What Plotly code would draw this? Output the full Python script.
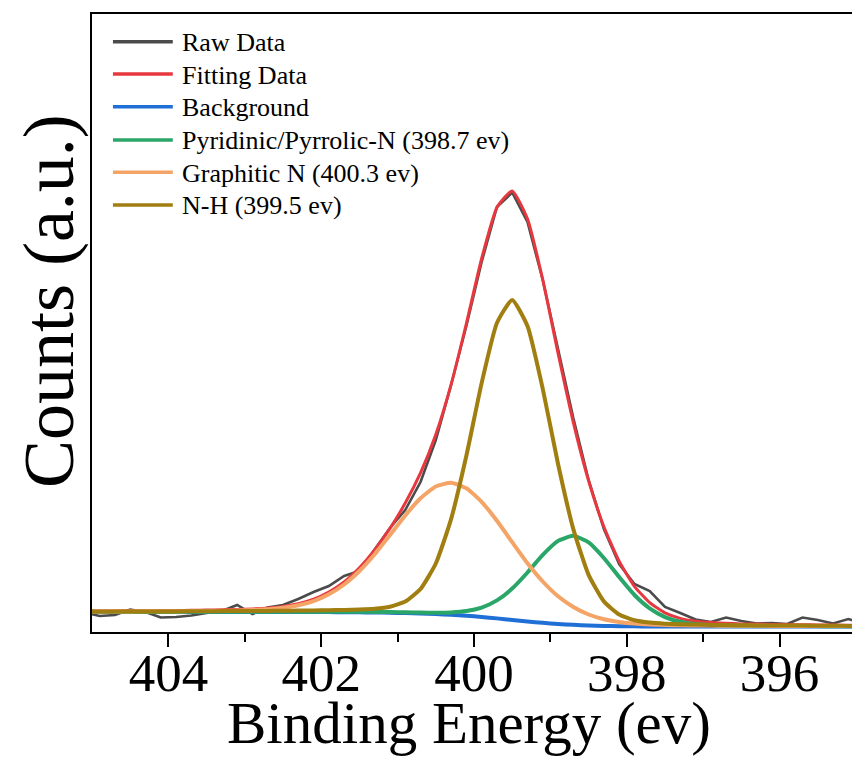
import plotly.graph_objects as go

# Binding energy grid (eV)
energy = [405.1, 404.9, 404.7, 404.5, 404.3, 404.1, 403.9, 403.7, 403.5, 403.3,
          403.1, 402.9, 402.7, 402.5, 402.3, 402.1, 401.9, 401.7, 401.5, 401.3,
          401.1, 400.9, 400.7, 400.5, 400.3, 400.1, 399.9, 399.7, 399.5, 399.3,
          399.1, 398.9, 398.7, 398.5, 398.3, 398.1, 397.9, 397.7, 397.5, 397.3,
          397.1, 396.9, 396.7, 396.5, 396.3, 396.1, 395.9, 395.7, 395.5, 395.3,
          395.1, 394.9]

raw_data = [19.5, 16.0, 17.0, 22.5, 20.0, 14.5, 15.0, 16.5, 19.0, 21.0,
            27.0, 18.0, 24.5, 27.0, 33.0, 40.0, 46.0, 56.0, 61.0, 83.0,
            104.0, 122.0, 150.0, 192.0, 247.0, 306.0, 370.0, 425.0, 439.5, 410.0,
            352.0, 283.0, 214.0, 152.0, 103.0, 68.0, 48.0, 41.0, 25.0, 19.0,
            12.5, 10.0, 14.5, 11.0, 8.5, 9.0, 8.0, 14.5, 12.0, 8.5,
            13.0, 8.0]

fitting_data = [20.9, 21.0, 21.1, 21.2, 21.3, 21.4, 21.5, 21.7, 21.9, 22.2,
                22.6, 23.1, 24.0, 25.6, 28.3, 32.8, 40.0, 50.1, 64.3, 82.2,
                103.6, 128.9, 159.1, 197.5, 247.3, 308.5, 373.5, 424.6, 441.1, 413.2,
                352.3, 278.8, 209.7, 151.2, 105.2, 70.7, 45.7, 29.3, 19.2, 13.6,
                10.8, 9.4, 8.7, 8.1, 7.9, 7.6, 7.4, 7.3, 7.0, 6.9,
                6.8, 6.7]

background = [20.0, 20.0, 20.0, 20.0, 20.0, 20.0, 20.0, 20.0, 20.0, 20.0,
              20.0, 20.0, 20.0, 19.98, 19.96, 19.93, 19.9, 19.83, 19.71, 19.52,
              19.28, 18.93, 18.49, 17.93, 17.19, 16.24, 15.04, 13.62, 12.07, 10.53,
              9.15, 8.02, 7.17, 6.54, 6.12, 5.85, 5.67, 5.58, 5.53, 5.51,
              5.5, 5.5, 5.5, 5.5, 5.5, 5.5, 5.5, 5.5, 5.5, 5.5,
              5.5, 5.5]

pyridinic_n = [20.1, 20.1, 20.1, 20.1, 20.1, 20.1, 20.1, 20.2, 20.2, 20.2,
               20.2, 20.2, 20.2, 20.2, 20.2, 20.2, 20.3, 20.2, 20.2, 20.1,
               19.9, 19.7, 19.4, 19.3, 19.6, 20.9, 24.4, 31.6, 43.4, 59.5,
               77.1, 91.1, 96.2, 89.6, 74.0, 54.9, 37.0, 23.6, 14.9, 10.2,
               7.9, 6.9, 6.5, 6.2, 6.1, 6.0, 6.0, 5.9, 5.9, 5.8,
               5.8, 5.8]

graphitic_n = [20.5, 20.5, 20.6, 20.6, 20.7, 20.7, 20.8, 20.9, 21.0, 21.2,
               21.5, 21.9, 22.7, 24.2, 26.7, 30.9, 37.7, 47.5, 61.0, 77.8,
               97.0, 116.5, 133.7, 145.5, 149.2, 143.8, 130.2, 111.2, 89.8, 68.8,
               50.5, 35.7, 25.0, 17.5, 12.8, 10.1, 8.4, 7.5, 7.0, 6.7,
               6.5, 6.4, 6.3, 6.2, 6.2, 6.1, 6.1, 6.0, 6.0, 5.9,
               5.9, 5.9]

n_h = [20.4, 20.4, 20.4, 20.5, 20.5, 20.6, 20.6, 20.7, 20.7, 20.9,
       20.9, 21.0, 21.1, 21.2, 21.4, 21.5, 21.8, 22.0, 22.5, 23.3,
       25.3, 30.5, 43.0, 68.5, 112.9, 176.2, 248.9, 309.0, 332.1, 305.9,
       243.1, 168.0, 102.9, 57.1, 30.6, 17.5, 11.7, 9.4, 8.3, 7.7,
       7.4, 7.1, 6.9, 6.7, 6.6, 6.5, 6.4, 6.4, 6.2, 6.2,
       6.1, 6.1]

series_names = ["Raw Data", "Fitting Data", "Background",
                "Pyridinic/Pyrrolic-N (398.7 ev)", "Graphitic N (400.3 ev)",
                "N-H (399.5 ev)"]
major_ticks = [404, 402, 400, 398, 396]
minor_ticks = [403, 401, 399, 397]

colors = ["#4b4b4b", "#e8383f", "#1f6fd6", "#29a668", "#f4a466", "#a07e10"]
widths = [2.6, 3.0, 4.0, 4.0, 4.0, 4.0]
series = [raw_data, fitting_data, background, pyridinic_n, graphitic_n, n_h]

FONT = "Liberation Serif, Times New Roman, serif"
# the page body has an 8 px margin: size the figure so it fits the window
OFF = 8
W, H = 860 - OFF, 764 - OFF
# plot area in page pixels: x 92..858, y 14..632
L, T = 92 - OFF, 14 - OFF
R = W - (858 - OFF)
B = H - (632 - OFF)
PW, PH = 858 - 92, 632 - 14


def px(xp):
    return (xp - 92) / PW


def py(yp):
    return (632 - yp) / PH


fig = go.Figure()
for i, (name, ys) in enumerate(zip(series_names, series)):
    fig.add_trace(go.Scatter(
        x=energy, y=ys, mode="lines", name=name,
        line=dict(color=colors[i], width=widths[i],
                  shape="linear" if i == 0 else "spline",
                  smoothing=0.5 if i else None),
        showlegend=False,
    ))

# custom legend (long line samples as in the original)
rows = [41.7, 74, 106.7, 140, 172.3, 205]
shapes = []
annotations = []
for i, name in enumerate(series_names):
    shapes.append(dict(type="line", xref="paper", yref="paper",
                       x0=px(113), x1=px(173), y0=py(rows[i]), y1=py(rows[i]),
                       line=dict(color=colors[i], width=3.5)))
    annotations.append(dict(text=name, xref="paper", yref="paper",
                            x=px(180), y=py(rows[i] + 1), xanchor="left",
                            yanchor="middle", showarrow=False,
                            font=dict(family=FONT, size=26, color="black")))

annotations.append(dict(text="Binding Energy (ev)", xref="paper", yref="paper",
                        x=px(470), y=py(723), xanchor="center", yanchor="middle",
                        showarrow=False,
                        font=dict(family=FONT, size=59, color="black")))
annotations.append(dict(text="Counts (a.u.)", xref="paper", yref="paper",
                        x=px(49), y=py(301), xanchor="center", yanchor="middle",
                        textangle=-90, showarrow=False,
                        font=dict(family=FONT, size=72, color="black")))

fig.update_layout(
    width=W, height=H,
    margin=dict(l=L, r=R, t=T, b=B),
    paper_bgcolor="white", plot_bgcolor="white",
    shapes=shapes, annotations=annotations,
    showlegend=False,
)
fig.update_xaxes(
    range=[405, 395], showline=True, linecolor="black", linewidth=2,
    mirror=True, showgrid=False, zeroline=False,
    tickmode="array", tickvals=major_ticks,
    ticktext=[str(t) for t in major_ticks],
    ticks="outside", ticklen=13, tickwidth=2, tickcolor="black",
    ticklabelstandoff=-20,
    tickfont=dict(family=FONT, size=53, color="black"),
    minor=dict(tickmode="array", tickvals=minor_ticks, ticks="outside",
               ticklen=8, tickwidth=2, tickcolor="black", showgrid=False),
)
fig.update_yaxes(
    range=[0, 618], showline=True, linecolor="black", linewidth=2,
    mirror=True, showgrid=False, zeroline=False, ticks="",
    showticklabels=False,
)

fig.write_html("out.html")
